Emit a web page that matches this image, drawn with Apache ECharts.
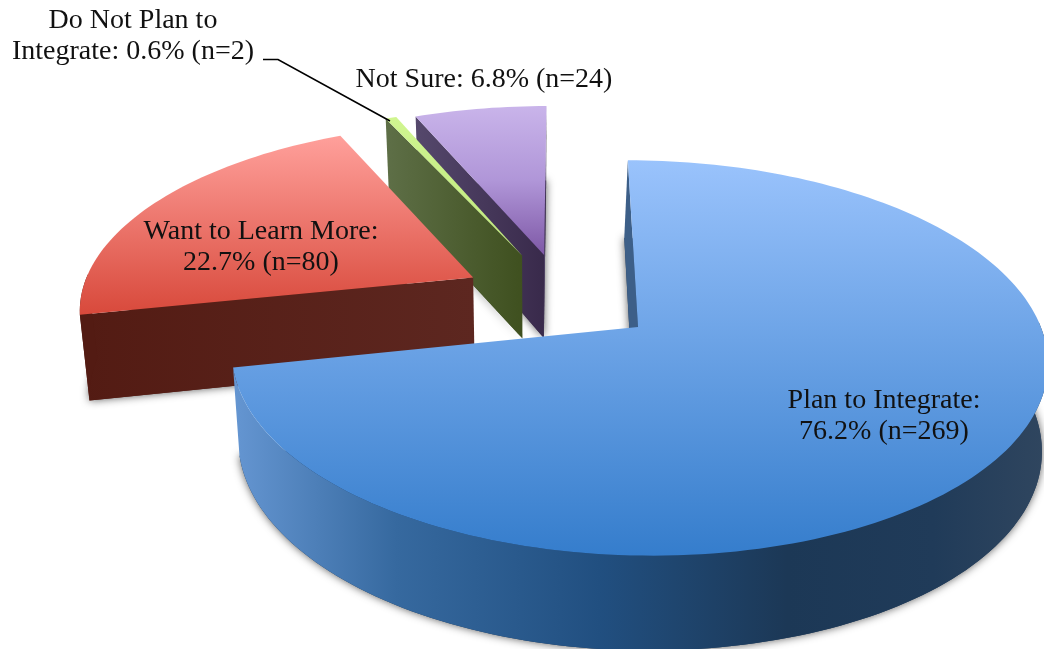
<!DOCTYPE html>
<html>
<head>
<meta charset="utf-8">
<title>Integration plans</title>
<style>html,body{margin:0;padding:0;background:#fff}#chart{width:1044px;height:649px}</style>
<script src="https://cdn.jsdelivr.net/npm/echarts@6/dist/echarts.min.js"></script>
</head>
<body>
<div id="chart"></div>
<script>
// Survey responses, drawn clockwise from twelve o'clock
var categories = ['Plan to Integrate', 'Want to Learn More', 'Do Not Plan to Integrate', 'Not Sure'];
var respondents = [269, 80, 2, 24];
var percents = [76.2, 22.7, 0.6, 6.8];

// Text blocks: line contents built from the arrays above
var labelLines = [
  ['Plan to Integrate:', percents[0] + '% (n=' + respondents[0] + ')'],
  ['Want to Learn More:', percents[1] + '% (n=' + respondents[1] + ')'],
  ['Do Not Plan to', 'Integrate: ' + percents[2] + '% (n=' + respondents[2] + ')'],
  ['Not Sure: ' + percents[3] + '% (n=' + respondents[3] + ')']
];

// Where each text block is centred
var labelAnchors = [[884, 416], [261, 247], [133, 36], [484, 80]];
var leaderLine = [[263, 59.5], [278, 59.5], [390, 121]];

// Perspective camera for the tilted disc (unit radius, u to the right, v to the back)
var view = {
  cx: 563, cy: 298.5, a: 393.5, b: 184, k: 0.153,
  explode: [0.24, 0.26, 0.265, 0.25],
  depth: 85, depthFall: 0.1, floorX: 538
};

function project(u, v, z) {
  var s = 1 / (1 + view.k * v);
  var x = view.cx + view.a * u * s;
  var y = view.cy - view.b * v * s;
  if (z) {
    // The lower rim sits slightly farther from the camera, so it pulls inward
    var d = x - view.floorX;
    x -= d < 0 ? d * 0.021 : Math.min(d * 0.04, 3.5 + d * 0.005);
    y += view.depth * (1 - view.depthFall * v);
  }
  return [x, y];
}

function vGrad(top, bottom, mid) {
  var stops = [{ offset: 0, color: top }];
  if (mid) stops.push({ offset: 0.5, color: mid });
  stops.push({ offset: 1, color: bottom });
  return new echarts.graphic.LinearGradient(0, 0, 0, 1, stops);
}
function hGrad(stops) {
  return new echarts.graphic.LinearGradient(0, 0, 1, 0, stops.map(function (c) {
    return { offset: c[0], color: c[1] };
  }));
}

var skins = [
  { top: vGrad('#9ac3fc', '#357dcc'), cut: '#3d5f88', rim: hGrad([[0, '#6596d2'], [0.2, '#36699f'], [0.45, '#214f80'], [0.68, '#1c3856'], [0.86, '#203b59'], [1, '#30465f']]), floor: '#1e3a5a' },
  { top: vGrad('#ffa09b', '#d8493b'), cut: hGrad([[0, '#531b13'], [1, '#5d2720']]), rim: '#531b13', floor: '#531b13' },
  { top: vGrad('#d0f590', '#bfe77d'), cut: hGrad([[0, '#5e6f47'], [1, '#3f501f']]), rim: '#4a5a2c', floor: '#3f501f' },
  { top: vGrad('#c9b4ea', '#7e58a6', '#b096d8'), cut: hGrad([[0, '#55486c'], [1, '#392a4b']]), rim: '#392a4b', floor: '#392a4b' }
];

var total = respondents.reduce(function (s, n) { return s + n; }, 0);

function renderWedge(i, api) {
  var before = 0;
  for (var j = 0; j < i; j++) before += respondents[j];
  var t0 = before / total * 2 * Math.PI;
  var t1 = (before + api.value(0)) / total * 2 * Math.PI;
  var mid = (t0 + t1) / 2;
  var au = view.explode[i] * Math.sin(mid), av = view.explode[i] * Math.cos(mid);
  var rimAt = function (t, z) { return project(au + Math.sin(t), av + Math.cos(t), z); };

  var steps = Math.max(3, Math.ceil((t1 - t0) * 40));
  var topArc = [], floorArc = [], frontTop = [], frontFloor = [];
  for (var n = 0; n <= steps; n++) {
    var t = t0 + (t1 - t0) * n / steps;
    topArc.push(rimAt(t, 0));
    floorArc.push(rimAt(t, 1));
    if (Math.cos(t) < 0.03) { frontTop.push(rimAt(t, 0)); frontFloor.push(rimAt(t, 1)); }
  }
  var apexTop = project(au, av, 0), apexFloor = project(au, av, 1);
  var skin = skins[i];
  var poly = function (pts, fill, extra) {
    var style = { fill: fill };
    for (var key in extra) style[key] = extra[key];
    return { type: 'polygon', shape: { points: pts }, style: style, silent: true };
  };
  var children = [];

  // Floor outline carries the soft drop shadow
  children.push(poly([apexFloor].concat(floorArc), skin.floor, { shadowBlur: 9, shadowColor: 'rgba(0,0,0,0.65)' }));

  // Only the cut faces turned toward the camera are painted
  var midPt = rimAt(mid, 0);
  [t0, t1].forEach(function (t) {
    var r = rimAt(t, 0);
    var dx = r[0] - apexTop[0], dy = r[1] - apexTop[1];
    var inner = dx * (midPt[1] - apexTop[1]) - dy * (midPt[0] - apexTop[0]);
    if (inner * dx < 0) {
      children.push(poly([apexTop, r, rimAt(t, 1), apexFloor], skin.cut));
    }
  });
  if (frontTop.length > 1) {
    children.push(poly(frontTop.concat(frontFloor.slice().reverse()), skin.rim));
  }
  children.push(poly([apexTop].concat(topArc), skin.top));
  return { type: 'group', children: children };
}

function renderText(params) {
  var lines = labelLines[params.dataIndex];
  var anchor = labelAnchors[params.dataIndex];
  var lineHeight = 31;
  return {
    type: 'group',
    children: lines.map(function (line, n) {
      return {
        type: 'text', silent: true,
        style: {
          text: line, x: anchor[0], y: anchor[1] + (n - (lines.length - 1) / 2) * lineHeight,
          align: 'center', verticalAlign: 'middle', fill: '#111',
          font: '28px "Liberation Serif", serif'
        }
      };
    })
  };
}

function renderLeader() {
  return { type: 'polyline', silent: true, shape: { points: leaderLine }, style: { fill: 'none', stroke: '#000', lineWidth: 1.6 } };
}

// Painted back to front so the nearer slices overlap the farther ones
function wedgeSeries(i, z) {
  return {
    type: 'custom', name: categories[i], coordinateSystem: 'none', z: z,
    renderItem: function (p, api) { return renderWedge(i, api); },
    data: [[respondents[i]]]
  };
}

var chart = echarts.init(document.getElementById('chart'), null, { renderer: 'canvas' });
chart.setOption({
  animation: false,
  backgroundColor: '#fff',
  series: [
    wedgeSeries(3, 1),
    wedgeSeries(2, 2),
    wedgeSeries(1, 3),
    wedgeSeries(0, 4),
    { type: 'custom', name: 'leader', coordinateSystem: 'none', z: 5, renderItem: renderLeader, data: [[0]] },
    { type: 'custom', name: 'labels', coordinateSystem: 'none', z: 6, renderItem: renderText, data: categories.map(function (c, i) { return [i]; }) }
  ]
});
</script>
</body>
</html>
